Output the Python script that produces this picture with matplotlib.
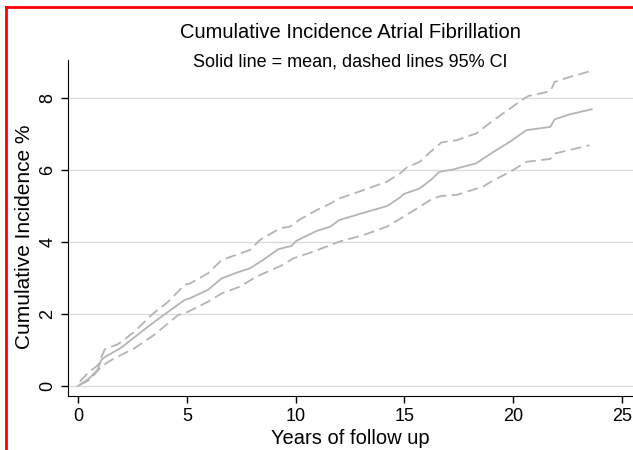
import matplotlib
matplotlib.use("Agg")
import matplotlib.pyplot as plt
from matplotlib.lines import Line2D

plt.rcParams['font.family'] = ['Liberation Sans', 'DejaVu Sans']

# years of follow up / cumulative incidence (%)
years_mean = [0, 0.5, 0.9, 1.07, 1.23, 2.0, 3.2, 4.0, 4.9, 5.15, 5.97, 6.6, 7.3, 7.9, 8.5,
              9.2, 9.8, 10.05, 10.97, 11.6, 12.0, 13.1, 14.2, 14.8, 14.95, 15.7,
              16.2, 16.6, 17.25, 18.3, 19.1, 19.85, 20.6, 21.7, 21.9, 22.6, 23.6]
inc_mean = [0, 0.2, 0.45, 0.72, 0.8, 1.07, 1.64, 2.0, 2.39, 2.44, 2.67, 2.99, 3.15, 3.27, 3.5,
            3.8, 3.89, 4.04, 4.31, 4.43, 4.61, 4.81, 5.0, 5.24, 5.33, 5.49,
            5.72, 5.95, 6.02, 6.19, 6.51, 6.79, 7.11, 7.2, 7.41, 7.55, 7.69]

years_up = [0.08, 0.46, 0.92, 1.23, 1.84, 2.6, 3.37, 4.14, 4.9, 5.15, 5.97, 6.6, 7.9,
            8.36, 9.28, 9.74, 10.2, 10.97, 11.6, 12.0, 13.1, 14.2, 14.8, 15.1, 15.7,
            16.2, 16.7, 17.4, 18.3, 19.1, 19.85, 20.5, 20.7, 21.7, 21.9, 22.6, 23.7]
inc_up = [0.12, 0.36, 0.58, 1.02, 1.16, 1.51, 1.97, 2.34, 2.81, 2.85, 3.13, 3.5, 3.78,
          4.06, 4.38, 4.43, 4.63, 4.89, 5.07, 5.21, 5.44, 5.68, 5.91, 6.07, 6.23,
          6.51, 6.77, 6.83, 7.02, 7.39, 7.71, 7.99, 8.06, 8.19, 8.45, 8.59, 8.78]

years_lo = [0.08, 0.54, 1.07, 1.53, 2.6, 3.5, 4.6, 5.05, 5.97, 6.6, 7.44, 8.2, 9.4,
            9.9, 10.8, 11.4, 12.0, 13.1, 14.2, 14.95, 15.7, 16.3, 16.7, 17.4, 18.6,
            19.1, 19.85, 20.6, 21.7, 21.9, 22.6, 23.5]
inc_lo = [0.03, 0.17, 0.54, 0.72, 1.05, 1.42, 1.97, 2.06, 2.34, 2.57, 2.76, 3.04, 3.36,
          3.55, 3.73, 3.87, 4.01, 4.19, 4.43, 4.7, 4.98, 5.21, 5.28, 5.31, 5.54,
          5.72, 5.95, 6.23, 6.31, 6.46, 6.56, 6.69]

W, H = 633, 450
fig = plt.figure(figsize=(W / 100, H / 100), dpi=100)
ax = fig.add_axes([68 / W, 1 - 396 / H, (W - 68) / W, (396 - 60) / H])

line_col = '#b4b4b4'
ax.plot(years_mean, inc_mean, color=line_col, lw=1.3)
ax.plot(years_up, inc_up, color=line_col, lw=1.3, ls=(0, (6, 3)))
ax.plot(years_lo, inc_lo, color=line_col, lw=1.3, ls=(0, (6, 3)))

ax.set_xlim(-0.46, 25.5)
ax.set_ylim(-0.28, 9.06)
ax.set_xticks([0, 5, 10, 15, 20, 25])
ax.set_yticks([0, 2, 4, 6, 8])
ax.grid(axis='y', color='#dcdcdc', lw=1)
ax.set_axisbelow(True)
for s in ['top', 'right']:
    ax.spines[s].set_visible(False)
ax.tick_params(labelsize=13, length=5, width=1)
plt.setp(ax.get_yticklabels(), rotation=90, va='center')

ax.set_xlabel('Years of follow up', fontsize=14.5, labelpad=3)
ax.set_ylabel('Cumulative Incidence %', fontsize=15)
ax.yaxis.set_label_coords((34 - 68) / (W - 68), (396 - 237) / (396 - 60))
fig.text(350 / W, 1 - 33 / H, 'Cumulative Incidence Atrial Fibrillation',
         ha='center', va='center', fontsize=14.5)
fig.text(350 / W, 1 - 62 / H, 'Solid line = mean, dashed lines 95% CI',
         ha='center', va='center', fontsize=13)

# red frame of the cropped screenshot
fig.add_artist(Line2D([6 / W, 6 / W], [0, 1 - 7 / H], color='red', lw=2,
                      transform=fig.transFigure))
fig.add_artist(Line2D([6 / W, 1], [1 - 7 / H, 1 - 7 / H], color='red', lw=2,
                      transform=fig.transFigure))

fig.savefig('out.png', dpi=100)
